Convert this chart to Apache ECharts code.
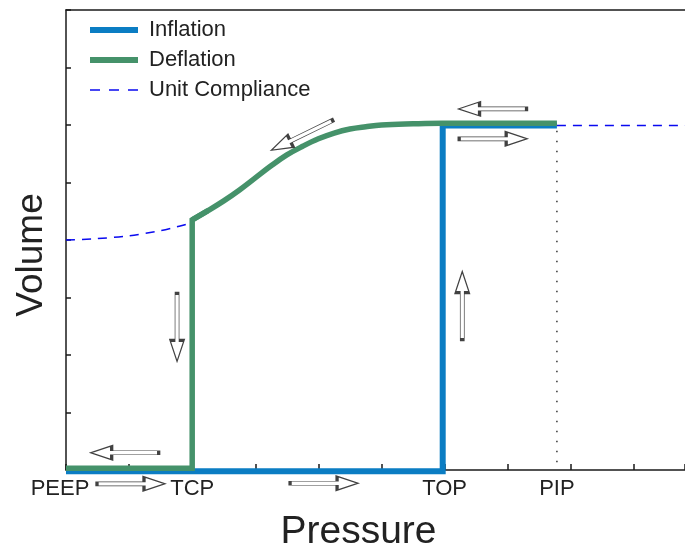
<!DOCTYPE html>
<html>
<head>
<meta charset="utf-8">
<script src="https://cdn.jsdelivr.net/npm/echarts@6/dist/echarts.min.js"></script>
<style>
  html, body { margin: 0; padding: 0; background: #fff; }
  #chart { width: 685px; height: 546px; }
</style>
</head>
<body>
<div id="chart"></div>
<script>
// Pressure landmarks on the x axis (arbitrary pressure units)
const pressureMarks = ['PEEP', 'TCP', 'TOP', 'PIP'];
const pressureValues = [0, 2, 6, 7.78];

// Inflation limb: flat until the opening pressure, vertical recruitment, then on to PIP
const inflationX = [0, 5.97, 5.97, 7.78];
const inflationY = [-0.02, -0.02, 5.99, 5.99];

// Deflation limb, upper part: the curve between the closing pressure and PIP
const deflationCurveX = [2.0, 2.25, 2.5, 2.75, 3.0, 3.25, 3.5, 3.75, 4.0, 4.25, 4.5, 4.75, 5.0, 5.5, 5.96, 7.78];
const deflationCurveY = [4.35, 4.51, 4.68, 4.87, 5.08, 5.29, 5.48, 5.63, 5.76, 5.86, 5.93, 5.97, 6.0, 6.02, 6.03, 6.03];
// Deflation limb, lower part: collapse at TCP and return to PEEP
const deflationDropX = [2.25, 2.0, 2.0, 0];
const deflationDropY = [4.51, 4.35, 0.03, 0.03];

// Unit compliance reference: low-pressure branch and the plateau beyond PIP
const complianceLowX = [0, 0.43, 0.97, 1.49, 1.76, 1.97, 2.0];
const complianceLowY = [4.0, 4.02, 4.07, 4.16, 4.23, 4.30, 4.35];
const complianceHighX = [7.78, 9.81];
const complianceHighY = [5.99, 5.99];

// Direction arrows along the loop (centre in data units, heading in degrees)
const arrowX = [6.76, 6.77, 3.74, 1.76, 6.28, 0.93, 1.03, 4.09];
const arrowY = [6.28, 5.76, 5.82, 2.48, 2.86, 0.30, -0.24, -0.23];
const arrowAngle = [180, 0, 206, -90, 90, 180, 0, 0];

const pairs = (xs, ys) => xs.map((x, i) => [x, ys[i]]);

const FONT = "'Liberation Sans', Arial, sans-serif";
const INK = '#1a1a1a';
const TEXT = '#222';
const BLUE = '#0b7dc3';
const GREEN = '#45926a';
const DASH_BLUE = '#0a0af0';
const ARROW = 'path://M0,5 L47,5 L47,0 L68,7 L47,14 L47,9 L0,9 Z';
const DASH_ICON = 'path://M0,0h10v1.6h-10z M19,0h10v1.6h-10z M38,0h10v1.6h-10z';

const chart = echarts.init(document.getElementById('chart'), null, { renderer: 'canvas' });

chart.setOption({
  animation: false,
  backgroundColor: '#fff',
  textStyle: { fontFamily: FONT },
  grid: { left: 66, top: 10, width: 619, height: 460, containLabel: false, outerBoundsMode: 'none' },
  legend: {
    data: [
      { name: 'Inflation', icon: 'rect', itemStyle: { color: BLUE } },
      { name: 'Deflation', icon: 'rect', itemStyle: { color: GREEN } },
      { name: 'Unit Compliance', icon: DASH_ICON, itemStyle: { color: DASH_BLUE } }
    ],
    orient: 'vertical',
    left: 90,
    top: 19,
    padding: 0,
    itemWidth: 48,
    itemHeight: 6,
    itemGap: 8,
    textStyle: { fontSize: 22, color: TEXT, fontFamily: FONT, padding: [0, 0, 0, 6] }
  },
  xAxis: [{
    type: 'value',
    min: 0,
    max: 9.81,
    interval: 1,
    axisLine: { lineStyle: { color: INK, width: 1.5 } },
    axisTick: { inside: true, length: 6, lineStyle: { color: INK, width: 1.5 } },
    splitLine: { show: false },
    axisLabel: {
      customValues: pressureValues,
      fontSize: 22,
      color: TEXT,
      margin: 8,
      formatter: (v) => {
        const i = pressureValues.indexOf(v);
        if (i < 0) return '';
        return i === 0 ? '{shift|' + pressureMarks[i] + '}' : pressureMarks[i];
      },
      rich: { shift: { fontSize: 22, color: TEXT, padding: [0, 12, 0, 0] } }
    },
    name: 'Pressure',
    nameLocation: 'middle',
    nameGap: 43,
    nameTextStyle: { fontSize: 39, color: TEXT, padding: [0, 34, 0, 0] }
  }, {
    type: 'value',
    position: 'top',
    min: 0,
    max: 9.81,
    axisLine: { show: true, lineStyle: { color: INK, width: 1.5 } },
    axisTick: { show: false },
    axisLabel: { show: false },
    splitLine: { show: false }
  }],
  yAxis: {
    type: 'value',
    min: 0,
    max: 8,
    interval: 1,
    axisLine: { show: true, lineStyle: { color: INK, width: 1.5 } },
    axisTick: { show: true, inside: true, length: 5, lineStyle: { color: INK, width: 1.5 } },
    axisLabel: { show: false },
    splitLine: { show: false },
    name: 'Volume',
    nameLocation: 'middle',
    nameRotate: 90,
    nameGap: 16,
    nameTextStyle: { fontSize: 37, color: TEXT, padding: [0, 30, 0, 0] }
  },
  series: [
    {
      name: 'Unit Compliance',
      type: 'line',
      data: pairs(complianceLowX, complianceLowY),
      smooth: 0.3,
      symbol: 'none',
      clip: false,
      lineStyle: { color: DASH_BLUE, width: 1.5, type: [9, 7] },
      itemStyle: { color: DASH_BLUE },
      z: 2
    },
    {
      name: 'Unit Compliance',
      type: 'line',
      data: pairs(complianceHighX, complianceHighY),
      symbol: 'none',
      clip: false,
      lineStyle: { color: DASH_BLUE, width: 1.5, type: [9, 7] },
      itemStyle: { color: DASH_BLUE },
      z: 2
    },
    {
      name: 'PIP level',
      type: 'line',
      data: [[pressureValues[3], 5.9], [pressureValues[3], 0]],
      symbol: 'none',
      lineStyle: { color: '#333', width: 1.5, type: [1.5, 8.5] },
      z: 2
    },
    {
      name: 'Inflation',
      type: 'line',
      data: pairs(inflationX, inflationY),
      symbol: 'none',
      clip: false,
      lineStyle: { color: BLUE, width: 6, cap: 'butt', join: 'miter' },
      itemStyle: { color: BLUE },
      z: 3
    },
    {
      name: 'Deflation',
      type: 'line',
      data: pairs(deflationDropX, deflationDropY),
      symbol: 'none',
      clip: false,
      lineStyle: { color: GREEN, width: 5.5, cap: 'butt', join: 'miter' },
      itemStyle: { color: GREEN },
      z: 4
    },
    {
      name: 'Deflation',
      type: 'line',
      data: pairs(deflationCurveX, deflationCurveY),
      smooth: 0.4,
      symbol: 'none',
      clip: false,
      lineStyle: { color: GREEN, width: 5.5, cap: 'butt', join: 'round' },
      itemStyle: { color: GREEN },
      z: 4
    },
    {
      name: 'Direction',
      type: 'scatter',
      clip: false,
      silent: true,
      symbol: ARROW,
      symbolSize: [68, 14],
      itemStyle: { color: '#fff', borderColor: '#111', borderWidth: 1.5 },
      data: arrowX.map((x, i) => ({ value: [x, arrowY[i]], symbolRotate: arrowAngle[i] })),
      z: 5
    }
  ]
});
</script>
</body>
</html>
